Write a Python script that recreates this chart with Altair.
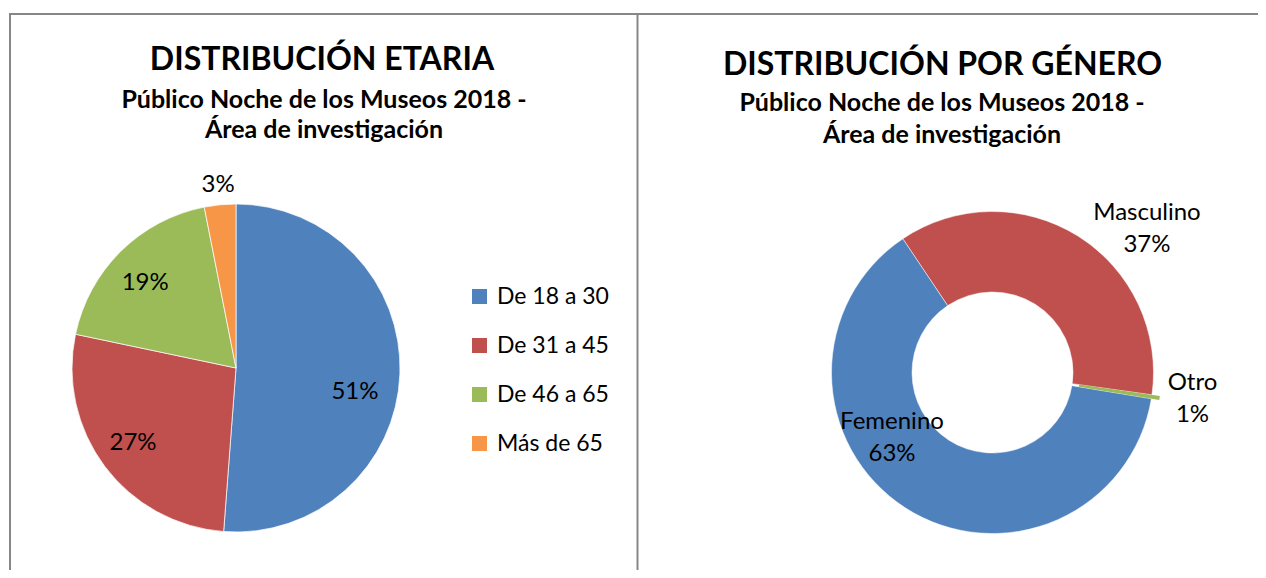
import math
import altair as alt
import pandas as pd

FONT = "Lato"

# ---------------- data ----------------
age_groups = ["De 18 a 30", "De 31 a 45", "De 46 a 65", "Más de 65"]
age_share = [51.2, 27.1, 18.6, 3.1]
age_labels = ["51%", "27%", "19%", "3%"]
age_colors = ["#4F81BD", "#C0504D", "#9BBB59", "#F79646"]

gender_groups = ["Femenino", "Masculino", "Otro"]
gender_share = [63.0, 36.6, 0.4]
gender_labels = ["63%", "37%", "1%"]
gender_colors = ["#4F81BD", "#C0504D", "#9BBB59"]

left_title = "DISTRIBUCIÓN ETARIA"
right_title = "DISTRIBUCIÓN POR GÉNERO"
subtitle_lines = ["Público Noche de los Museos 2018 -", "Área de investigación"]

age_df = pd.DataFrame({"grupo": age_groups, "pct": age_share,
                       "etiqueta": age_labels, "orden": list(range(len(age_groups)))})
gen_df = pd.DataFrame({"genero": gender_groups, "pct_g": gender_share,
                       "etiqueta": gender_labels, "orden": list(range(len(gender_groups)))})

# ---------------- layout ----------------
W, H = 1250, 562
PIE_X, PIE_Y, PIE_R = 227, 360, 164
DON_X, DON_Y, DON_R, DON_IR = 983.5, 364.5, 161, 80.5
TH0 = math.radians(99.4)
LINE_COLOR = "#878787"
LABEL_SIZE = 24

one = pd.DataFrame({"k": [0]})

# ---------------- pie (age) ----------------
age_theta = alt.Theta("pct:Q", stack=True)
age_color = alt.Color(
    "grupo:N",
    scale=alt.Scale(domain=age_groups, range=age_colors),
    legend=alt.Legend(orient="none", legendX=459, legendY=277, title=None,
                      symbolType="square", symbolSize=225, symbolStrokeWidth=0,
                      labelFont=FONT, labelFontSize=23, labelColor="black",
                      labelOffset=6, rowPadding=25, padding=0),
)

pie = alt.Chart(age_df).mark_arc(outerRadius=PIE_R, stroke="white", strokeWidth=0.7).encode(
    theta=age_theta, order=alt.Order("orden:Q"), color=age_color,
    x=alt.value(PIE_X), y=alt.value(PIE_Y))


def age_label(group, radius, dx=0, dy=0):
    return alt.Chart(age_df).mark_text(
        radius=radius, dx=dx, dy=dy, font=FONT, fontSize=LABEL_SIZE, color="black",
        align="center", baseline="middle").encode(
        theta=age_theta, order=alt.Order("orden:Q"), detail="grupo:N",
        text="etiqueta:N", x=alt.value(PIE_X), y=alt.value(PIE_Y),
        opacity=alt.condition(alt.datum.grupo == group, alt.value(1), alt.value(0)))


# ---------------- donut (gender) ----------------
gen_theta = alt.Theta("pct_g:Q", stack=True,
                      scale=alt.Scale(range=[TH0, TH0 + 2 * math.pi]))
gen_color = alt.Color("genero:N", scale=alt.Scale(domain=gender_groups, range=gender_colors),
                      legend=None)

donut = alt.Chart(gen_df).mark_arc(innerRadius=DON_IR, outerRadius=DON_R,
                                   stroke="white", strokeWidth=0.5).encode(
    theta=gen_theta, order=alt.Order("orden:Q"), color=gen_color,
    x=alt.value(DON_X), y=alt.value(DON_Y),
    opacity=alt.condition(alt.datum.genero == "Otro", alt.value(0), alt.value(1)))

donut_explode = alt.Chart(gen_df).mark_arc(innerRadius=DON_IR + 7, outerRadius=DON_R + 8).encode(
    theta=gen_theta, order=alt.Order("orden:Q"), color=gen_color,
    x=alt.value(DON_X), y=alt.value(DON_Y),
    opacity=alt.condition(alt.datum.genero == "Otro", alt.value(1), alt.value(0)))


def gen_label(group, radius, dx=0, dy=0):
    return alt.Chart(gen_df).transform_calculate(
        lab="[datum.genero, datum.etiqueta]").mark_text(
        radius=radius, dx=dx, dy=dy, font=FONT, fontSize=LABEL_SIZE, color="black",
        align="center", baseline="middle", lineHeight=32).encode(
        theta=gen_theta, order=alt.Order("orden:Q"), detail="genero:N",
        text="lab:N", x=alt.value(DON_X), y=alt.value(DON_Y),
        opacity=alt.condition(alt.datum.genero == group, alt.value(1), alt.value(0)))


# ---------------- titles ----------------
def text_at(txt, x, y, size, weight="bold"):
    return alt.Chart(pd.DataFrame({"t": [txt]})).mark_text(
        font=FONT, fontSize=size, fontWeight=weight, color="black",
        align="center", baseline="middle").encode(
        text="t:N", x=alt.value(x), y=alt.value(y))


titles = [
    text_at(left_title, 313, 52, 32),
    text_at(subtitle_lines[0], 315, 92, 25),
    text_at(subtitle_lines[1], 315, 122, 25),
    text_at(right_title, 933.5, 57, 32),
    text_at(subtitle_lines[0], 933, 95, 25),
    text_at(subtitle_lines[1], 933, 127, 25),
]

# ---------------- frame lines ----------------
frame = [
    alt.Chart(one).mark_rule(color=LINE_COLOR, strokeWidth=2).encode(
        x=alt.value(0), x2=alt.value(W), y=alt.value(6)),
    alt.Chart(one).mark_rule(color=LINE_COLOR, strokeWidth=2).encode(
        x=alt.value(1), y=alt.value(6), y2=alt.value(H)),
    alt.Chart(one).mark_rule(color=LINE_COLOR, strokeWidth=2).encode(
        x=alt.value(628.5), y=alt.value(6), y2=alt.value(H)),
]

layers = frame + titles + [
    pie,
    age_label("De 18 a 30", 121, -2, 19),
    age_label("De 31 a 45", 125, -3, 0),
    age_label("De 46 a 65", 125, -3, 4),
    age_label("Más de 65", 184, 0, 0),
    donut, donut_explode,
    gen_label("Femenino", 120, -35.5, -51.4),
    gen_label("Masculino", 211, 42.4, 19.3),
    gen_label("Otro", 202, 0.3, -19.5),
]

chart = alt.layer(*layers).resolve_scale(
    theta="independent", color="independent"
).properties(
    width=W, height=H, padding=0,
    autosize=alt.AutoSizeParams(type="fit", contains="padding"),
).configure_view(stroke=None)

chart.save("out.html", embed_options={"renderer": "svg", "actions": False})
